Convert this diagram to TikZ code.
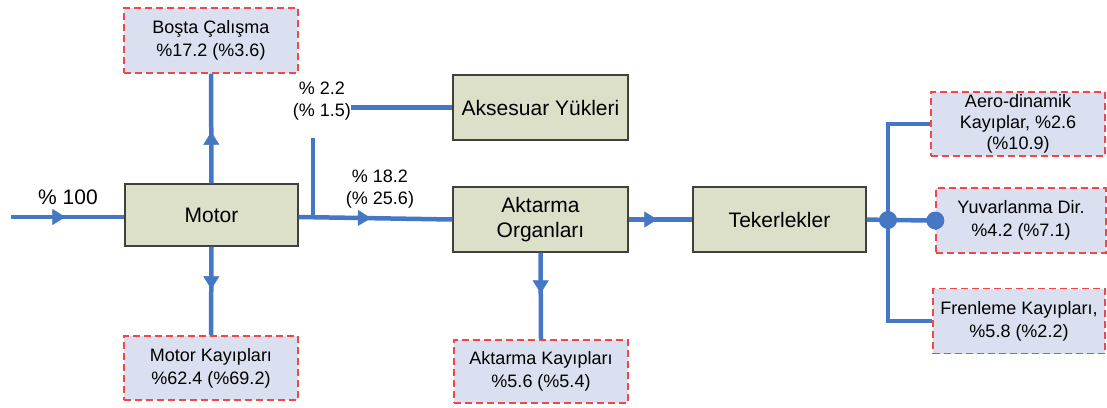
\documentclass[tikz,border=0pt]{standalone}
\usepackage{fontspec}
\setmainfont{Liberation Sans}
\usetikzlibrary{arrows.meta,decorations.markings}

\definecolor{blockfill}{HTML}{DCE0C9}
\definecolor{blockline}{HTML}{404040}
\definecolor{lossfill}{HTML}{DAE0F0}
\definecolor{lossline}{HTML}{F04848}
\definecolor{flowblue}{HTML}{4677C4}

\tikzset{
  block/.style={draw=blockline, line width=1.4pt, fill=blockfill, align=center,
    inner sep=2pt, font=\fontsize{21}{25}\selectfont},
  lossbox/.style={draw=lossline, line width=1.3pt, dash pattern=on 7pt off 4pt,
    fill=lossfill, align=center, inner sep=2pt, font=\fontsize{18}{23}\selectfont},
  flow/.style={draw=flowblue, line width=4.5pt},
  midarrow/.style={postaction={decorate}, decoration={markings,
    mark=at position #1 with {\arrow[flowblue, line width=0.5pt]{Triangle[length=13pt,width=16pt]}}}},
  valuelabel/.style={align=center, inner sep=0pt, font=\fontsize{18}{22}\selectfont},
  dot/.style={circle, fill=flowblue, minimum size=18pt, inner sep=0pt}
}

\begin{document}
\begin{tikzpicture}[x=1pt, y=-1pt]
\useasboundingbox (0,0) rectangle (1107,407);

% main power-train blocks
\node[block, minimum width=173pt, minimum height=62pt] (motor) at (211.5,215) {Motor};
\node[block, minimum width=175pt, minimum height=65pt] (aks) at (540.5,107.5) {Aksesuar Yükleri};
\node[block, minimum width=175pt, minimum height=65pt] (akt) at (540.5,219.5) {Aktarma\\Organları};
\node[block, minimum width=173pt, minimum height=65pt] (tek) at (779.5,219.5) {Tekerlekler};

% loss boxes
\node[lossbox, minimum width=174pt, minimum height=65pt] (bosta) at (211,40.5) {Boşta Çalışma\\\%17.2 (\%3.6)};
\node[lossbox, minimum width=174pt, minimum height=64pt] (mkayip) at (211,368) {Motor Kayıpları\\\%62.4 (\%69.2)};
\node[lossbox, minimum width=174pt, minimum height=63pt] (akayip) at (541,371.5) {Aktarma Kayıpları\\\%5.6 (\%5.4)};
\node[lossbox, minimum width=174pt, minimum height=64pt, font=\fontsize{18}{21}\selectfont] (aero) at (1018,124) {Aero-dinamik\\Kayıplar, \%2.6\\(\%10.9)};
\node[lossbox, minimum width=170pt, minimum height=65pt] (yuv) at (1021,220.5) {Yuvarlanma Dir.\\\%4.2 (\%7.1)};
\node[lossbox, minimum width=172pt, minimum height=65pt] (fren) at (1019,321) {Frenleme Kayıpları,\\\%5.8 (\%2.2)};

% value labels
\node[inner sep=0pt, font=\fontsize{21}{25}\selectfont] (inlabel) at (68,197) {\% 100};
\node[valuelabel] (acclabel) at (322,101) {\% 2.2\\(\% 1.5)};
\node[valuelabel] (trlabel) at (380,189) {\% 18.2\\(\% 25.6)};

% free ends and branch points
\coordinate (src) at (11,217);
\coordinate (tap) at (313,217.3);
\coordinate (taptop) at (313,138);
\coordinate (junc) at (888,220);

% flows
\draw[flow, midarrow=0.48] (src) -- (motor.west |- src);
\draw[flow, midarrow=0.47] (motor.north) -- (bosta.south);
\draw[flow, midarrow=0.48] (motor.south) -- (mkayip.north);
\draw[flow, midarrow=0.47] (motor.east |- src) -- (akt.west);
\draw[flow] (taptop) -- (tap);
\draw[flow] (acclabel.east |- aks.west) -- (aks.west);
\draw[flow, midarrow=0.47] (akt.south) -- (akayip.north);
\draw[flow, midarrow=0.45] (akt.east) -- (tek.west);
\draw[flow] (tek.east) -- (junc) -- (yuv.west);
\draw[flow] (aero.west) -| (junc) |- (fren.west);
\node[dot] (jdot) at (junc) {};
\node[dot] (ydot) at (yuv.west) {};
\end{tikzpicture}
\end{document}
